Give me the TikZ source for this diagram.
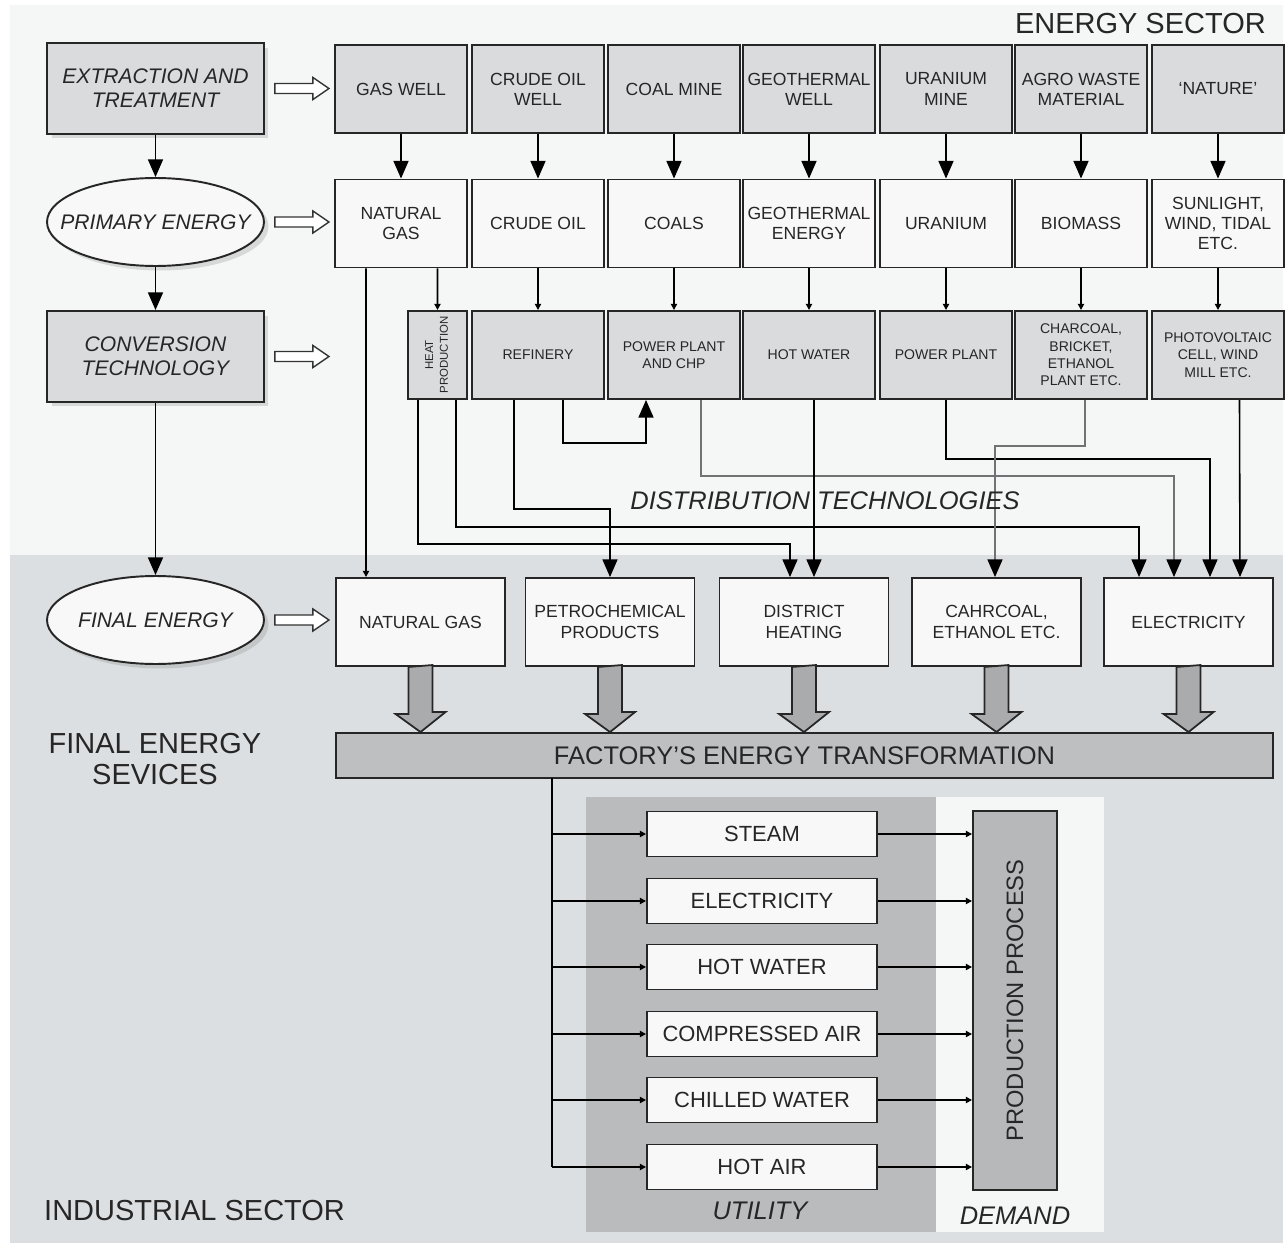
\documentclass[tikz,border=0pt]{standalone}
\usepackage{fontspec}
\setmainfont{Liberation Sans}
\usetikzlibrary{arrows.meta,shapes.geometric,shadows,calc}
\definecolor{topbg}{HTML}{F5F6F6}
\definecolor{botbg}{HTML}{DCDFE1}
\definecolor{boxgray}{HTML}{D9DBDD}
\definecolor{boxwhite}{HTML}{F8F8F8}
\definecolor{utilbg}{HTML}{B9BBBD}
\definecolor{barfill}{HTML}{BDBFC1}
\definecolor{prodfill}{HTML}{B6B8BA}
\definecolor{arrfill}{HTML}{A9ABAD}
\definecolor{linegray}{HTML}{707274}

\tikzset{
  lvl/.style={draw=black!85,line width=1.1pt,fill=boxgray,minimum width=4.34cm,
    minimum height=1.82cm,inner sep=1pt,align=center,text=black!85,
    font=\fontsize{12}{13.6}\selectfont\itshape,
    drop shadow={shadow xshift=0.09cm,shadow yshift=-0.09cm,opacity=0.25}},
  lvlell/.style={lvl,ellipse,fill=boxwhite,minimum height=1.76cm,inner xsep=-0.9cm},
  srcbox/.style={draw=black!85,line width=1.1pt,fill=boxgray,minimum width=2.64cm,
    minimum height=1.76cm,inner sep=1pt,align=center,text=black!85,
    font=\fontsize{10}{11.5}\selectfont},
  formbox/.style={srcbox,fill=boxwhite},
  convbox/.style={srcbox,font=\fontsize{8}{9.9}\selectfont},
  finbox/.style={srcbox,fill=boxwhite,minimum width=3.38cm},
  utilbox/.style={draw=black!85,line width=1.1pt,fill=boxwhite,minimum width=4.6cm,
    minimum height=0.9cm,inner sep=1pt,text=black!85,font=\fontsize{12.5}{14}\selectfont},
  bigarr/.style={line width=0.9pt,-{Triangle[length=10pt,width=8.5pt]}},
  grayarr/.style={line width=0.9pt,draw=linegray,-{Triangle[length=10pt,width=8.5pt,color=black]}},
  smallarr/.style={line width=0.9pt,-{Triangle[length=3.5pt,width=3.5pt]}},
  hollow/.style={draw=black!80,line width=0.8pt,fill=white},
  blockarr/.style={draw=black!85,line width=1pt,fill=arrfill},
  biglbl/.style={font=\fontsize{16.5}{18.1}\selectfont,align=center,text=black!85},
  itlbl/.style={font=\fontsize{14.5}{16}\selectfont\itshape,text=black!85}
}

\begin{document}
\begin{tikzpicture}[x=0.02cm,y=-0.02cm]
  % sectors
  \fill[white] (0,0) rectangle (1286,1247);
  \fill[topbg] (10,5) rectangle (1283,555);
  \fill[botbg] (10,555) rectangle (1283,1243);
  \fill[utilbg] (586,797) rectangle (936,1232);
  \fill[topbg] (936,797) rectangle (1104,1232);
  \useasboundingbox (0,0) rectangle (1286,1247);

  % levels
  \node[lvl] (ext) at (155.5,88.5) {EXTRACTION AND\\TREATMENT};
  \node[lvlell] (prim) at (155.5,222) {PRIMARY ENERGY};
  \node[lvl] (conv) at (155.5,356.5) {CONVERSION\\TECHNOLOGY};
  \node[lvlell] (fin) at (155.5,620) {FINAL ENERGY};
  \draw[bigarr] (ext) -- (prim);
  \draw[bigarr] (prim) -- (conv);
  \draw[bigarr] (conv) -- (fin);
  \foreach \lv in {ext,prim,conv,fin}
    \draw[hollow] (\lv.east) ++(10,5) -- ++(38,0) -- ++(0,6) -- ++(16,-11)
      -- ++(-16,-11) -- ++(0,6) -- ++(-38,0) -- cycle;

  % energy sector rows
  \foreach \n/\x/\t in {gw/401/GAS WELL, cow/538/{CRUDE OIL\\WELL}, cm/674/COAL MINE,
      gtw/809/{GEOTHERMAL\\WELL}, um/946/{URANIUM\\MINE}, agro/1081/{AGRO WASTE\\MATERIAL},
      nat/1218/{`NATURE'}}
    \node[srcbox] (\n) at (\x,89) {\t};
  \foreach \n/\x/\t in {ngas/401/{NATURAL\\GAS}, crude/538/CRUDE OIL, coals/674/COALS,
      geo/809/{GEOTHERMAL\\ENERGY}, uran/946/URANIUM, bio/1081/BIOMASS,
      sun/1218/{SUNLIGHT,\\WIND, TIDAL\\ETC.}}
    \node[formbox] (\n) at (\x,223.5) {\t};
  \foreach \n/\x/\t in {refin/538/REFINERY, pp/674/{POWER PLANT\\AND CHP}, hotw/809/HOT WATER,
      ppl/946/POWER PLANT, charc/1081/{CHARCOAL,\\BRICKET,\\ETHANOL\\PLANT ETC.},
      pv/1218/{PHOTOVOLTAIC\\CELL, WIND\\MILL ETC.}}
    \node[convbox] (\n) at (\x,355) {\t};
  \node[convbox,minimum width=1.18cm,font=\fontsize{6.5}{8.5}\selectfont] (heat) at (437.5,355)
    {\rotatebox{90}{\begin{tabular}{@{}c@{}}HEAT\\PRODUCTION\end{tabular}}};

  \foreach \a/\b in {gw/ngas,cow/crude,cm/coals,gtw/geo,um/uran,agro/bio,nat/sun}
    \draw[bigarr] (\a) -- (\b);
  \foreach \a/\b in {crude/refin,coals/pp,geo/hotw,uran/ppl,bio/charc,sun/pv}
    \draw[smallarr] (\a) -- (\b);
  \draw[smallarr] ([xshift=0.73cm]ngas.south) -- (heat.north);

  % final energy
  \foreach \n/\x/\t in {fng/420.5/NATURAL GAS, petro/610/{PETROCHEMICAL\\PRODUCTS},
      dh/804/{DISTRICT\\HEATING}, chc/996.5/{CAHRCOAL,\\ETHANOL ETC.}, elec/1188.5/ELECTRICITY}
    \node[finbox] (\n) at (\x,622) {\t};

  % distribution
  \draw[smallarr] ([xshift=-0.7cm]ngas.south) -- ([xshift=-1.09cm]fng.north);
  \draw[bigarr] ([xshift=-0.39cm]heat.south) -- ++(0,144) -| ([xshift=-0.28cm]dh.north);
  \draw[bigarr] ([xshift=0.37cm]heat.south) -- ++(0,127) -| ([xshift=-0.99cm]elec.north);
  \draw[bigarr] ([xshift=-0.48cm]refin.south) -- ++(0,109) -| (petro.north);
  \draw[bigarr] ([xshift=0.5cm]refin.south) -- ++(0,43) -| ([xshift=-0.56cm]pp.south);
  \draw[grayarr] ([xshift=0.54cm]pp.south) -- ++(0,76) -| ([xshift=-0.29cm]elec.north);
  \draw[bigarr] ([xshift=0.1cm]hotw.south) -- ([xshift=0.2cm]dh.north);
  \draw[bigarr] (ppl.south) -- ++(0,59) -| ([xshift=0.43cm]elec.north);
  \draw[grayarr] ([xshift=0.08cm]charc.south) -- ++(0,46) -| ([xshift=-0.03cm]chc.north);
  \draw[bigarr] ([xshift=0.43cm]pv.south) -- ([xshift=1.03cm]elec.north);
  \node[itlbl] (distlbl) at (825,501) {DISTRIBUTION TECHNOLOGIES};

  % factory
  \node[draw=black!85,line width=1.1pt,fill=barfill,minimum width=18.74cm,minimum height=0.9cm,
    text=black!85,font=\fontsize{14.5}{16}\selectfont] (fact) at (804.5,755.5)
    {FACTORY'S ENERGY TRANSFORMATION};
  \foreach \b in {fng,petro,dh,chc,elec}
    \draw[blockarr] (\b.south) ++(-12,0) -- ++(0,47) -- ++(-13,0) -- (\b.south |- fact.north)
      -- ++(25,-20) -- ++(-13,0) -- ++(0,-47) -- cycle;

  \node[biglbl,anchor=east] (esec) at (1272,24) {ENERGY SECTOR};
  \node[biglbl] (fes) at (155,759) {FINAL ENERGY\\SEVICES};
  \node[biglbl,anchor=west] (isec) at (38,1211) {INDUSTRIAL SECTOR};

  % utility and demand
  \coordinate (tap) at (552,778);
  \node[draw=black!85,line width=1.1pt,fill=prodfill,minimum width=1.68cm,minimum height=7.58cm,
    inner sep=0pt,text=black!85] (prod) at (1015,1000.5)
    {\rotatebox{90}{\fontsize{13.5}{15}\selectfont PRODUCTION PROCESS}};
  \foreach \n/\y/\t in {steam/834/STEAM, uelec/901/ELECTRICITY, uhotw/967/HOT WATER,
      cair/1034/COMPRESSED AIR, chw/1100/CHILLED WATER, hair/1167/HOT AIR}{
    \node[utilbox] (\n) at (762,\y) {\t};
    \draw[smallarr] (tap |- \n.west) -- (\n.west);
    \draw[smallarr] (\n.east) -- (\n.east -| prod.west);
  }
  \draw[line width=0.9pt] (tap) -- (tap |- hair.west);
  \node[itlbl] (utl) at (760,1211) {UTILITY};
  \node[itlbl] (dmd) at (1015,1216) {DEMAND};
\end{tikzpicture}
\end{document}
